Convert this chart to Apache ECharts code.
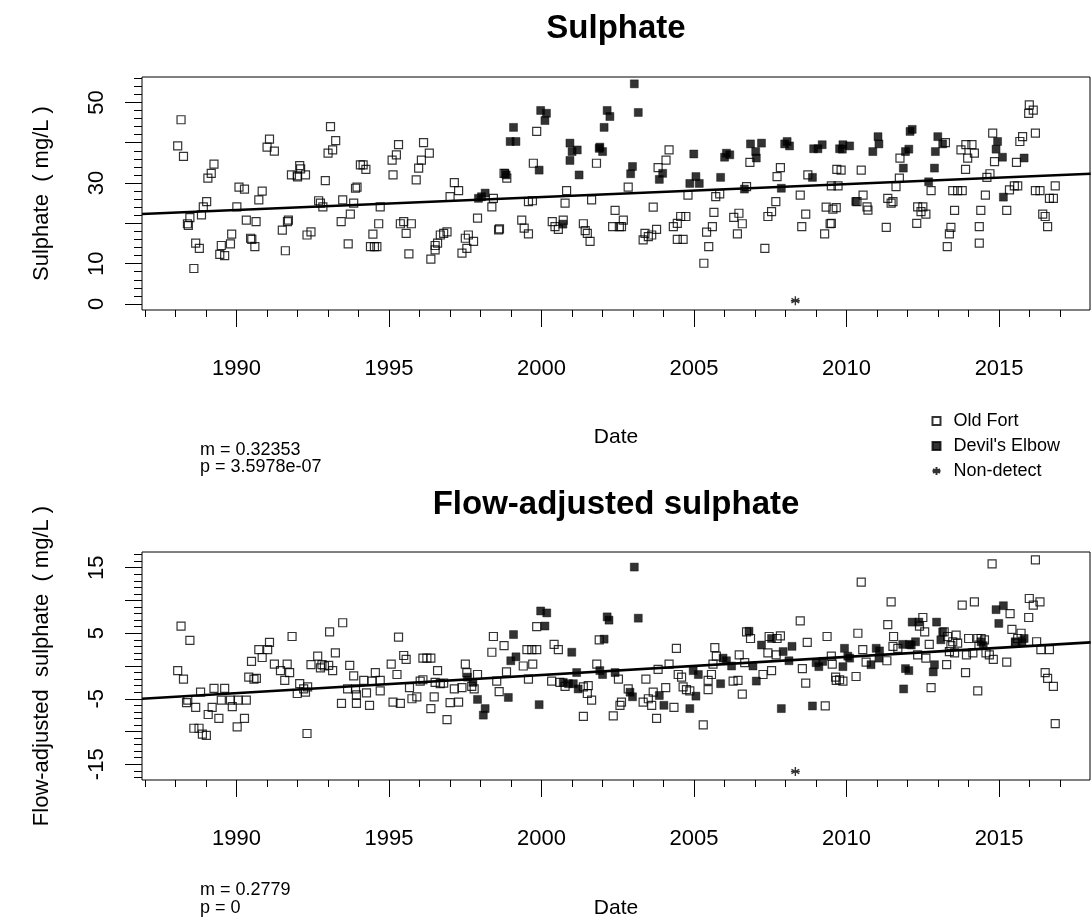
<!DOCTYPE html>
<html>
<head>
<meta charset="utf-8">
<script src="https://cdn.jsdelivr.net/npm/echarts@6/dist/echarts.min.js"></script>
<style>html,body{margin:0;padding:0;background:#fff}#c{width:1092px;height:920px}</style>
</head>
<body>
<div id="c"></div>
<script>
// ---- data: [decimal year, value] ----
const oldFortTop = [
[1988.18,45.7],[1988.07,39.2],[1988.26,36.6],[1988.39,19.9],[1988.42,19.5],[1988.47,21.4],[1988.66,15.1],[1988.78,13.8],[1988.6,8.8],[1988.85,22.1],[1988.91,24.1],[1989.02,25.4],[1989.06,31.2],[1989.17,32.4],[1989.26,34.7],[1989.45,12.3],[1989.61,12.0],[1989.5,14.5],[1989.8,14.9],[1989.84,17.3],[1990.01,24.1],[1990.08,29.0],[1990.26,28.5],[1990.32,20.8],[1990.46,16.3],[1990.5,16.0],[1990.6,14.2],[1990.64,20.4],[1990.73,25.8],[1990.84,28.0],[1991.0,38.9],[1991.08,40.9],[1991.24,37.9],[1991.5,18.3],[1991.6,13.2],[1991.67,20.4],[1991.7,20.8],[1991.8,32.0],[1991.99,31.8],[1992.07,34.3],[1992.1,33.5],[1992.0,31.5],[1992.26,32.0],[1992.31,17.1],[1992.44,17.9],[1992.69,25.6],[1992.75,25.0],[1992.83,24.1],[1992.91,30.6],[1993.0,37.4],[1993.15,38.2],[1993.08,44.0],[1993.25,40.5],[1993.43,20.4],[1993.48,25.8],[1993.66,14.9],[1993.73,22.3],[1993.84,25.0],[1993.9,28.7],[1993.95,29.0],[1994.06,34.5],
[1994.15,34.5],[1994.24,33.4],[1994.47,17.3],[1994.66,19.9],[1994.39,14.2],[1994.52,14.2],[1994.6,14.2],[1994.71,24.1],[1995.13,32.0],[1995.1,35.7],[1995.24,37.0],[1995.31,39.5],[1995.37,19.9],[1995.48,20.4],[1995.56,17.5],[1995.73,19.9],[1995.65,12.4],[1995.89,30.8],[1995.97,33.7],[1996.06,35.7],[1996.13,40.0],[1996.32,37.4],[1996.37,11.1],[1996.51,13.4],[1996.59,15.1],[1996.68,17.1],[1996.79,17.5],[1996.9,17.9],[1996.51,14.5],[1997.0,26.6],[1997.14,30.1],[1997.28,28.1],[1997.39,12.6],[1997.5,16.3],[1997.6,17.1],[1997.55,13.8],[1997.77,15.5],[1997.9,21.3],[1998.37,24.1],[1998.42,26.2],[1998.59,18.4],[1998.62,18.6],[1998.86,31.2],[1998.77,32.4],[1999.35,20.8],[1999.43,18.8],[1999.57,17.4],[1999.73,34.9],[1999.84,42.8],[1999.57,25.4],[1999.7,25.6],[2000.35,20.4],[2000.44,19.2],[2000.55,18.5],[2000.71,20.8],[2000.77,25.0],[2000.82,28.1],[2001.37,19.9],[2001.43,18.2],[2001.5,17.5],[2001.59,15.5],[2001.64,25.8],[2001.8,34.9],
[2002.84,29.0],[2002.41,23.2],[2002.68,20.8],[2002.33,19.2],[2002.62,19.2],[2002.55,19.2],[2003.66,24.0],[2003.39,17.5],[2003.5,16.7],[2003.61,17.1],[2003.77,18.5],[2003.33,15.9],[2003.82,33.8],[2004.18,38.2],[2004.08,35.7],[2004.32,19.2],[2004.45,20.0],[2004.56,21.7],[2004.73,21.7],[2004.45,16.0],[2004.64,16.0],[2004.8,27.0],[2005.32,10.1],[2005.48,14.2],[2005.41,17.8],[2005.6,19.2],[2005.65,22.7],[2005.71,26.6],[2005.84,27.3],[2006.3,21.5],[2006.47,22.5],[2006.58,19.9],[2006.42,17.4],[2006.72,29.1],[2006.83,35.1],[2007.32,13.8],[2007.42,21.7],[2007.54,22.9],[2007.68,25.4],[2007.72,31.6],[2007.83,33.8],[2008.48,27.0],[2008.53,19.2],[2008.66,22.3],[2008.73,32.0],[2009.28,17.4],[2009.46,19.9],[2009.33,24.0],[2009.55,23.5],[2009.66,23.9],[2009.68,33.4],
[2009.5,29.3],[2009.72,29.3],[2009.5,20.0],[2009.82,33.2],[2010.48,33.2],[2010.34,25.4],[2010.54,27.0],[2010.67,24.1],[2010.7,23.3],[2011.3,19.0],[2011.35,26.2],[2011.46,25.0],[2011.52,25.4],[2011.62,29.1],[2011.73,31.2],[2011.75,36.2],[2012.3,20.0],[2012.33,24.1],[2012.5,24.1],[2012.6,22.3],[2012.44,22.9],[2012.77,28.1],[2013.24,40.0],[2013.42,19.0],[2013.37,17.4],[2013.3,14.2],[2013.54,23.2],[2013.48,28.1],[2013.64,28.1],[2013.79,28.1],[2013.75,38.2],[2013.91,39.5],[2014.11,39.5],[2014.19,37.4],[2013.97,36.2],[2013.9,33.4],[2014.35,15.1],[2014.35,19.2],[2014.4,23.2],[2014.55,27.0],[2014.6,31.4],[2014.7,32.3],[2014.79,42.4],[2014.85,35.3],[2015.25,23.2],[2015.34,28.3],[2015.5,29.3],[2015.61,29.3],[2015.57,35.1],[2015.68,40.3],[2015.77,41.5],[2015.99,49.4],[2016.12,48.1],[2015.97,47.3],[2016.19,42.4],[2016.19,28.1],[2016.34,28.1],[2016.65,26.2],[2016.78,26.2],[2016.84,29.3],[2016.43,22.3],[2016.51,21.7],[2016.59,19.2]
];
const devilsTop = [
[1997.93,26.2],[1998.15,27.5],[1998.03,26.6],[1998.8,32.4],[1998.84,32.0],[1999.08,43.8],[1998.97,40.3],[1999.16,40.3],[1999.92,33.2],[1999.97,48.0],[2000.16,47.3],[2000.11,45.5],[2000.93,39.9],[2001.0,37.8],[2001.17,38.2],[2000.93,35.6],[2001.23,32.0],[2001.89,38.6],[2001.91,38.9],[2002.0,37.8],[2002.05,43.8],[2002.15,48.0],[2002.24,46.5],[2003.04,54.6],[2003.17,47.5],[2002.98,34.1],[2002.92,32.3],[2003.97,32.4],[2003.86,30.9],[2004.99,37.2],[2005.06,31.6],[2004.86,29.9],[2005.17,29.9],[2005.87,31.4],[2006.06,37.4],[2006.17,37.0],[2006.0,36.4],[2006.65,28.5],[2006.85,39.7],[2007.02,37.8],[2007.04,36.2],[2007.21,39.9],[2007.86,28.7],[2007.97,39.7],[2008.13,39.2],[2008.05,40.3],[2008.88,31.4],[2008.92,38.5],[2009.06,38.5],[2009.2,39.5],[2009.77,38.5],[2009.88,39.5],[2010.1,39.2],[2009.86,38.4],[2010.86,37.8],[2011.03,41.5],[2011.06,39.7],[2011.86,33.7],[2011.93,37.8],[2012.04,38.4],[2012.08,42.8],[2012.15,43.3],[2012.69,30.3],[2012.88,33.7],[2012.91,37.8],[2012.99,41.5],[2013.15,39.7],[2014.95,40.3],[2014.9,38.4],[2015.11,36.4],[2015.14,26.5],[2015.82,36.2],[2000.7,19.8],[2010.3,25.4]
];
const nonDetectTop = [[2008.32,0.8]];
const trendTop = [[1986.9,22.3],[2018.0,32.3]];

const oldFortBottom = [
[1988.18,6.1],[1988.47,3.9],[1988.07,-0.7],[1988.26,-2.0],[1988.36,-5.6],[1988.4,-5.2],[1988.66,-6.3],[1988.6,-9.5],[1988.77,-9.5],[1988.88,-10.4],[1989.01,-10.6],[1988.82,-4.0],[1989.07,-7.4],[1989.2,-6.3],[1989.42,-8.0],[1989.26,-3.4],[1989.61,-3.4],[1989.5,-5.2],[1989.8,-5.2],[1989.86,-6.2],[1990.05,-5.2],[1990.32,-5.2],[1990.02,-9.3],[1990.26,-8.0],[1990.49,0.7],[1990.4,-1.7],[1990.57,-2.0],[1990.65,-1.9],[1990.73,2.5],[1990.84,1.3],[1991.02,2.5],[1991.08,3.6],[1991.24,0.3],[1991.44,-0.7],[1991.66,0.3],[1991.74,-1.0],[1991.58,-2.2],[1991.82,4.5],[1991.99,-4.2],[1992.07,-2.7],[1992.2,-3.5],[1992.33,-3.2],[1992.26,-4.0],[1992.31,-10.3],[1992.44,0.2],[1992.66,1.5],[1992.75,-0.3],[1992.88,0.0],[1993.02,0.1],[1993.15,-0.7],[1992.8,0.2],[1993.05,5.2],[1993.24,2.0],[1993.48,6.6],[1993.44,-5.7],[1993.71,0.1],[1993.84,-1.5],[1993.93,-4.4],[1993.64,-3.5],[1993.9,-3.5],[1993.93,-5.7],
[1994.17,-2.2],[1994.26,-4.1],[1994.36,-6.0],[1994.44,-2.3],[1994.55,-1.0],[1994.71,-2.2],[1994.71,-3.8],[1995.07,0.3],[1995.26,-1.3],[1995.13,-5.5],[1995.37,-5.7],[1995.31,4.4],[1995.48,1.6],[1995.56,1.0],[1995.67,-3.3],[1995.75,-5.0],[1995.91,-4.7],[1996.02,-2.3],[1996.11,-2.1],[1996.11,1.2],[1996.24,1.2],[1996.37,1.2],[1996.37,-6.5],[1996.48,-4.7],[1996.59,-0.7],[1996.51,-2.5],[1996.68,-2.7],[1996.79,-2.6],[1996.9,-8.2],[1997.0,-5.6],[1997.14,-3.5],[1997.28,-5.5],[1997.39,-3.3],[1997.5,0.3],[1997.55,-1.0],[1997.71,-3.1],[1997.79,-3.5],[1997.9,-1.3],[1998.37,2.1],[1998.42,4.5],[1998.77,3.1],[1998.53,-2.3],[1998.61,-3.9],[1998.85,-0.9],[1999.4,0.0],[1999.57,-2.0],[1999.71,0.3],[1999.52,2.5],[1999.68,2.5],[1999.84,2.5],[1999.84,6.0],[2000.41,3.3],[2000.55,2.5],[2000.33,-2.3],[2000.6,-2.5],[2000.77,-3.1],[2001.37,-7.7],[2001.37,-3.2],[2001.5,-4.2],[2001.64,-5.2],[2001.53,-3.0],[2001.81,0.3],[2001.89,4.0],
[2002.52,-2.0],[2002.84,-3.5],[2002.62,-5.5],[2002.57,-6.0],[2002.35,-7.6],[2003.42,-2.0],[2003.33,-5.5],[2003.5,-5.0],[2003.61,-6.0],[2003.66,-4.0],[2003.77,-8.0],[2003.82,-0.5],[2004.07,-3.3],[2004.18,0.3],[2004.34,-6.3],[2004.42,2.7],[2004.48,-1.3],[2004.59,-1.7],[2004.64,-3.2],[2004.75,-3.6],[2004.86,-3.8],[2005.3,-9.0],[2005.46,-3.6],[2005.57,-1.3],[2005.68,2.8],[2005.73,1.5],[2005.62,0.3],[2005.46,-2.2],[2006.28,-2.3],[2006.44,-2.2],[2006.48,1.7],[2006.66,0.5],[2006.58,-4.3],[2006.72,5.2],[2006.85,4.2],[2007.26,-1.3],[2007.54,-0.7],[2007.42,2.0],[2007.46,4.5],[2007.72,4.2],[2007.83,4.6],[2007.69,1.7],[2008.48,6.9],[2008.55,-0.4],[2008.66,-2.6],[2008.71,3.6],[2009.3,-6.1],[2009.36,4.5],[2009.5,1.5],[2009.53,0.3],[2009.66,-2.2],[2009.64,-1.7],
[2010.48,12.8],[2011.46,9.8],[2010.37,5.0],[2011.35,6.3],[2011.54,4.5],[2009.77,-2.1],[2009.88,-2.3],[2010.31,-1.6],[2010.53,2.5],[2010.64,0.6],[2011.32,0.8],[2011.52,3.0],[2011.68,2.7],[2012.5,7.4],[2012.39,6.1],[2012.56,5.2],[2012.33,1.7],[2012.6,1.2],[2012.71,3.3],[2012.77,-3.3],[2013.28,0.2],[2013.2,5.2],[2013.31,4.5],[2013.48,3.7],[2013.37,2.2],[2013.42,3.1],[2013.59,4.7],[2013.64,3.5],[2013.54,2.0],[2013.79,9.3],[2014.19,9.8],[2013.9,-1.0],[2013.93,1.7],[2014.0,4.2],[2014.14,2.0],[2014.3,4.2],[2014.41,4.2],[2014.52,4.0],[2014.34,3.2],[2014.57,2.0],[2014.68,1.7],[2014.81,1.0],[2014.3,-3.8],[2014.77,15.6],[2015.36,8.0],[2015.25,0.6],[2015.42,5.6],[2015.72,5.0],[2015.61,4.2],[2015.55,3.5],[2015.97,7.4],[2015.99,10.3],[2016.12,9.3],[2016.34,9.8],[2016.19,16.2],[2016.23,3.7],[2016.37,2.5],[2016.65,2.5],[2016.51,-1.0],[2016.59,-1.9],[2016.78,-3.1],[2016.84,-8.8]
];
const devilsBottom = [
[1997.57,-1.7],[1997.75,-2.5],[1997.9,-5.1],[1998.15,-6.5],[1998.09,-7.5],[1998.91,-4.8],[1998.99,0.8],[1999.16,1.4],[1999.08,4.8],[2000.11,6.1],[1999.97,8.4],[2000.17,8.1],[1999.92,-5.9],[2000.99,2.1],[2000.71,-2.5],[2000.88,-2.7],[2001.15,-1.0],[2001.2,-3.5],[2001.04,-2.7],[2001.91,-0.7],[2002.0,-1.3],[2002.41,-1.0],[2002.15,7.5],[2002.21,7.0],[2002.05,4.1],[2003.04,15.1],[2003.17,7.3],[2002.9,-4.0],[2002.98,-4.7],[2003.86,-4.5],[2004.01,-6.0],[2005.06,-4.6],[2004.86,-6.5],[2004.97,-0.7],[2005.14,-1.3],[2005.87,-2.7],[2005.95,1.2],[2006.06,0.8],[2006.23,0.0],[2006.8,5.3],[2006.93,0.0],[2007.04,-2.3],[2007.21,3.2],[2007.54,4.2],[2007.92,2.2],[2008.11,0.8],[2008.21,3.0],[2007.86,-6.5],[2008.88,-6.1],[2009.0,0.5],[2009.09,-0.1],[2009.22,0.7],[2009.93,2.7],[2010.04,1.5],[2009.88,-0.1],[2010.1,1.2],[2010.8,0.2],[2010.97,2.7],[2011.06,1.2],[2011.08,2.3],[2011.84,3.3],[2012.06,3.3],[2011.93,-0.4],[2012.04,-0.7],[2011.87,-3.5],[2012.15,6.7],[2012.37,6.7],[2012.26,3.7],[2012.12,3.2],[2012.88,0.2],[2012.84,-0.9],[2012.95,6.7],[2013.15,5.2],[2013.09,4.0],[2014.41,3.7],[2014.48,3.1],[2014.9,8.6],[2015.14,9.2],[2014.99,6.5],[2015.53,3.7],[2015.75,3.6],[2015.82,4.2]
];
const nonDetectBottom = [[2008.32,-16.1]];
const trendBottom = [[1986.9,-5.0],[2018.0,3.6]];

const yearTicks = [];
for (let y = 1987; y <= 2018; y++) yearTicks.push(y);
const yearLabels = [1990,1995,2000,2005,2010,2015];
const topMinorTicks = [0,2,4,6,8,10,12,14,16,18,20,22,24,26,28,30,32,34,36,38,40,42,44,46,48,50,52,54,56];
const topMajorTicks = [0,10,20,30,40,50];
const topLabels = [0,10,30,50];
const botMinorTicks = [-17,-16,-15,-14,-13,-12,-11,-10,-9,-8,-7,-6,-5,-4,-3,-2,-1,0,1,2,3,4,5,6,7,8,9,10,11,12,13,14,15,16,17];
const botMajorTicks = [-15,-10,-5,0,5,10,15];
const botLabels = [-15,-5,5,15];
const statsTop = ['m = 0.32353','p = 3.5978e-07'];
const statsBottom = ['m = 0.2779','p = 0'];

const FONT = 'Liberation Sans, Arial, sans-serif';
const AX = 22;
const XMIN = 1986.9, XMAX = 2017.98;
const asterisk = 'path://M5,0L5,10M0.7,2.5L9.3,7.5M0.7,7.5L9.3,2.5M0,5L10,5';

function xAxes(grid, labelMargin, nameGap) {
  return [
    {gridIndex: grid, type:'value', min:XMIN, max:XMAX, position:'bottom',
     axisLine:{show:false, onZero:false}, splitLine:{show:false},
     axisTick:{show:true, customValues: yearTicks, length:7, lineStyle:{color:'#000',width:1}},
     axisLabel:{show:false}},
    {gridIndex: grid, type:'value', min:XMIN, max:XMAX, position:'bottom',
     axisLine:{show:false, onZero:false}, splitLine:{show:false},
     axisTick:{show:true, customValues: yearLabels, length:17, lineStyle:{color:'#000',width:1}},
     axisLabel:{show:true, customValues: yearLabels, margin:labelMargin, color:'#000', fontFamily:FONT, fontSize:AX,
                formatter: v => String(v)},
     name:'Date', nameLocation:'middle', nameGap:nameGap,
     nameTextStyle:{color:'#000', fontFamily:FONT, fontSize:21}}
  ];
}
function yAxes(grid, mn, mx, minor, major, labels, name) {
  return [
    {gridIndex: grid, type:'value', min:mn, max:mx, position:'left',
     axisLine:{show:false, onZero:false}, splitLine:{show:false},
     axisTick:{show:true, customValues: minor, length:8, lineStyle:{color:'#000',width:1}},
     axisLabel:{show:false}},
    {gridIndex: grid, type:'value', min:mn, max:mx, position:'left',
     axisLine:{show:false, onZero:false}, splitLine:{show:false},
     axisTick:{show:true, customValues: major, length:17, lineStyle:{color:'#000',width:1}},
     axisLabel:{show:true, customValues: labels, rotate:90, margin:34, color:'#000', fontFamily:FONT, fontSize:AX,
                formatter: v => String(v)},
     name:name, nameLocation:'middle', nameGap:89, nameRotate:90,
     nameTextStyle:{color:'#000', fontFamily:FONT, fontSize:AX}}
  ];
}
function seriesFor(xi, yi, of, de, nd, tr) {
  return [
    {name:'Old Fort', type:'scatter', xAxisIndex:xi, yAxisIndex:yi, data:of, symbol:'rect', symbolSize:8,
     itemStyle:{color:'rgba(255,255,255,0)', borderColor:'#000', borderWidth:1.2}},
    {name:"Devil's Elbow", type:'scatter', xAxisIndex:xi, yAxisIndex:yi, data:de, symbol:'rect', symbolSize:8,
     itemStyle:{color:'#000', borderColor:'#000', borderWidth:0.5}},
    {name:'Non-detect', type:'scatter', xAxisIndex:xi, yAxisIndex:yi, data:nd, symbol:asterisk, symbolSize:9,
     itemStyle:{color:'none', borderColor:'#000', borderWidth:1.4}},
    {name:'trend', type:'line', xAxisIndex:xi, yAxisIndex:yi, data:tr, showSymbol:false, symbol:'none',
     lineStyle:{color:'#000', width:2.6}, z:5}
  ];
}

const chart = echarts.init(document.getElementById('c'), null, {renderer:'canvas'});
chart.setOption({
  animation:false,
  backgroundColor:'#fff',
  title:[
    {text:'Sulphate', top:12, left:616, textAlign:'center', padding:0,
     textStyle:{fontFamily:FONT, fontWeight:'bold', fontSize:33, color:'#000'}},
    {text:'Flow-adjusted sulphate', top:488, left:616, textAlign:'center', padding:0,
     textStyle:{fontFamily:FONT, fontWeight:'bold', fontSize:33, color:'#000'}}
  ],
  legend:{
    data:['Old Fort',"Devil's Elbow",'Non-detect'], orient:'vertical', left:930, top:411,
    itemWidth:8, itemHeight:8, itemGap:5, padding:0,
    textStyle:{fontFamily:FONT, fontSize:18, lineHeight:20, color:'#000', padding:[0,0,0,8]}
  },
  grid:[
    {left:142, right:2, top:77, height:233, show:true, borderColor:'#000', borderWidth:1, backgroundColor:'transparent'},
    {left:142, right:2, top:552, height:233, show:true, borderColor:'#000', borderWidth:1, backgroundColor:'transparent'}
  ],
  xAxis:[...xAxes(0, 48, 117), ...xAxes(1, 48, 118)],
  yAxis:[...yAxes(0, -1.5, 56.3, topMinorTicks, topMajorTicks, topLabels, 'Sulphate  ( mg/L )'),
         ...yAxes(1, -17.4, 17.4, botMinorTicks, botMajorTicks, botLabels, 'Flow-adjusted  sulphate  ( mg/L )')],
  series:[...seriesFor(0, 0, oldFortTop, devilsTop, nonDetectTop, trendTop),
          ...seriesFor(2, 2, oldFortBottom, devilsBottom, nonDetectBottom, trendBottom)],
  graphic:[
    {type:'text', left:200, top:441, style:{text:statsTop[0], fontFamily:FONT, fontSize:18, fill:'#000'}},
    {type:'text', left:200, top:458, style:{text:statsTop[1], fontFamily:FONT, fontSize:18, fill:'#000'}},
    {type:'text', left:200, top:881, style:{text:statsBottom[0], fontFamily:FONT, fontSize:18, fill:'#000'}},
    {type:'text', left:200, top:899, style:{text:statsBottom[1], fontFamily:FONT, fontSize:18, fill:'#000'}}
  ]
});
</script>
</body>
</html>
